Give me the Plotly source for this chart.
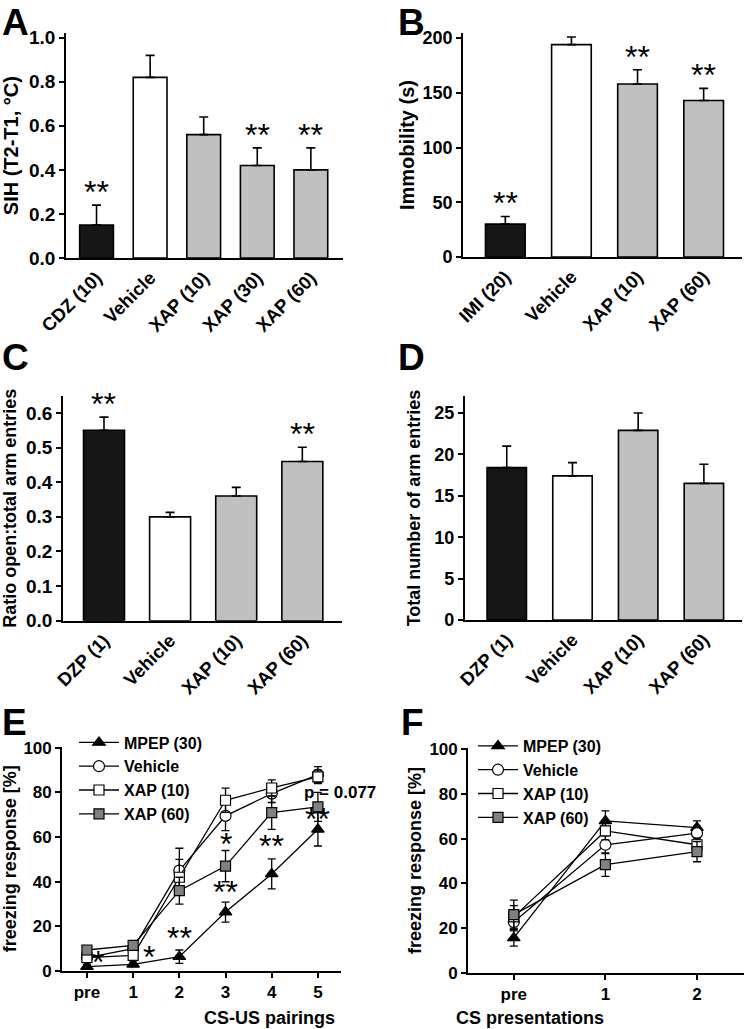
import plotly.graph_objects as go

# ---------------- DATA ----------------
A_cats = ["CDZ (10)", "Vehicle", "XAP (10)", "XAP (30)", "XAP (60)"]
A_vals = [0.15, 0.82, 0.56, 0.42, 0.40]
A_err = [0.09, 0.10, 0.08, 0.08, 0.10]
A_sig = ["**", "", "", "**", "**"]

B_cats = ["IMI (20)", "Vehicle", "XAP (10)", "XAP (60)"]
B_vals = [30, 194, 158, 143]
B_err = [7, 7, 13, 11]
B_sig = ["**", "", "**", "**"]

C_cats = ["DZP (1)", "Vehicle", "XAP (10)", "XAP (60)"]
C_vals = [0.55, 0.30, 0.36, 0.46]
C_err = [0.038, 0.013, 0.025, 0.041]
C_sig = ["**", "", "", "**"]

D_cats = ["DZP (1)", "Vehicle", "XAP (10)", "XAP (60)"]
D_vals = [18.4, 17.4, 22.9, 16.5]
D_err = [2.6, 1.6, 2.1, 2.3]

series_names = ["MPEP (30)", "Vehicle", "XAP (10)", "XAP (60)"]

E_x = ["pre", "1", "2", "3", "4", "5"]
E_mpep = [2, 3, 6.4, 26.4, 43.5, 63.5]
E_mpep_err = [1, 1, 3, 4.5, 6.7, 7.5]
E_veh = [6, 10, 45, 69.5, 79.5, 88]
E_veh_err = [1.5, 2, 10, 6.6, 4, 3.6]
E_x10 = [6, 7, 42, 76.5, 82, 87]
E_x10_err = [1.5, 2, 8, 5.4, 3.6, 3]
E_x60 = [9.4, 11.5, 36, 47, 71, 73.5]
E_x60_err = [2, 2, 6, 7, 7.5, 6.5]
E_sig_x = [0.25, 1.35, 2, 3, 3, 4, 5]
E_sig_y = [4, 6.4, 14.7, 57, 35.4, 56, 68]
E_sig_t = ["*", "*", "**", "*", "**", "**", "**"]

F_x = ["pre", "1", "2"]
F_mpep = [15.6, 68, 65]
F_mpep_err = [3.7, 4.5, 3]
F_veh = [22.7, 57.3, 62.5]
F_veh_err = [4, 4, 3]
F_x10 = [25, 63.5, 57.3]
F_x10_err = [5, 4, 3]
F_x60 = [26, 48.4, 54.2]
F_x60_err = [6.5, 5.3, 4.5]

# ---------------- STYLE ----------------
FONT = "Liberation Sans, Arial, Helvetica, sans-serif"
W, H = 745, 1029
BLACK_BAR = "#161616"
GRAY_BAR = "#c0c0c0"
GRAY_MARK = "#808080"


def fx(p):
    return p / W


def fy(p):
    return 1 - p / H


fig = go.Figure()


def bold(size):
    return dict(family=FONT, size=size, color="black", weight="bold")


axis_common = dict(
    showline=True, linecolor="black", linewidth=1.7, showgrid=False, zeroline=False,
    tickcolor="black", tickwidth=1.5, automargin=False,
)

panels = [
    # name, idx, xpx, ypx, yrange, xrange, dtick, fmt, ytitle, ytick size, title size, standoff
    ("A", 1, (66, 343), (33.3, 258), [0, 1.02], [-0.57, 4.6], 0.2, ".1f", "SIH (T2-T1, °C)", 19, 20, 6),
    ("B", 2, (463, 742), (33, 257), [0, 204.6], [-0.64, 3.58], 50, "", "Immobility (s)", 18, 20, 3),
    ("C", 3, (63, 342), (396, 620.7), [0, 0.649], [-0.62, 3.6], 0.1, ".1f", "Ratio open:total arm entries", 19, 18, 6),
    ("D", 4, (464.7, 742), (396, 620), [0, 27.05], [-0.64, 3.58], 5, "", "Total number of arm entries", 18, 18, 9),
    ("E", 5, (62, 341), (746.7, 971), [0, 100.5], [-0.54, 5.5], 20, "", "freezing response [%]", 17, 18, 10),
    ("F", 6, (468, 743.7), (748.3, 972.7), [0, 100.5], [-0.5, 2.51], 20, "", "freezing response [%]", 17, 18, 3),
]

layout = {}
for name, i, xp, yp, yr, xr, dt, fmt, yt, tks, tts, so in panels:
    xk = "xaxis" if i == 1 else f"xaxis{i}"
    yk = "yaxis" if i == 1 else f"yaxis{i}"
    xa = "x" if i == 1 else f"x{i}"
    ya = "y" if i == 1 else f"y{i}"
    is_line = name in ("E", "F")
    layout[xk] = dict(axis_common, domain=[fx(xp[0]), fx(xp[1])], anchor=ya, range=xr,
                      type="category", tickfont=bold(17 if is_line else 18.5),
                      ticks="outside" if is_line else "", ticklen=5,
                      tickangle=0 if is_line else -45)
    layout[yk] = dict(axis_common, domain=[fy(yp[1]), fy(yp[0])], anchor=xa, range=yr,
                      dtick=dt, tick0=0, tickformat=fmt, ticks="outside", ticklen=5,
                      tickfont=bold(tks),
                      title=dict(text=yt, font=bold(tts), standoff=so))


def bar_panel(cats, vals, err, xa, ya, width):
    colors = [BLACK_BAR, "white"] + [GRAY_BAR] * (len(cats) - 2)
    fig.add_trace(go.Bar(
        x=cats, y=vals, xaxis=xa, yaxis=ya, width=width, showlegend=False,
        marker=dict(color=colors, line=dict(color="black", width=1.6)),
        error_y=dict(type="data", array=err, arrayminus=[0] * len(err), symmetric=False,
                     color="black", thickness=1.6, width=4.5),
    ))


bar_panel(A_cats, A_vals, A_err, "x", "y", 0.63)
bar_panel(B_cats, B_vals, B_err, "x2", "y2", 0.6)
bar_panel(C_cats, C_vals, C_err, "x3", "y3", 0.62)
bar_panel(D_cats, D_vals, D_err, "x4", "y4", 0.6)

annotations = []
star_font = dict(family=FONT, size=32, color="black")
for cats, vals, err, sig, xa, ya in [
    (A_cats, A_vals, A_err, A_sig, "x", "y"),
    (B_cats, B_vals, B_err, B_sig, "x2", "y2"),
    (C_cats, C_vals, C_err, C_sig, "x3", "y3"),
]:
    for c, v, e, s in zip(cats, vals, err, sig):
        if s:
            annotations.append(dict(x=c, y=v + e, xref=xa, yref=ya, text=s, showarrow=False,
                                    font=star_font, yanchor="middle", yshift=13))

# line panels
line_specs = [
    ("triangle-up", "black", 11),
    ("circle", "white", 11),
    ("square", "white", 10),
    ("square", GRAY_MARK, 10),
]


def line_panel(xcats, ys, errs, xa, ya, legend):
    for name, y, e, (sym, fill, size) in zip(series_names, ys, errs, line_specs):
        fig.add_trace(go.Scatter(
            x=xcats, y=y, xaxis=xa, yaxis=ya, name=name, legend=legend,
            mode="lines+markers",
            line=dict(color="black", width=1.3),
            marker=dict(symbol=sym, color=fill, size=size, line=dict(color="black", width=1.2)),
            error_y=dict(type="data", array=e, color="black", thickness=1.3, width=4),
        ))


line_panel(E_x, [E_mpep, E_veh, E_x10, E_x60], [E_mpep_err, E_veh_err, E_x10_err, E_x60_err],
           "x5", "y5", "legend")
line_panel(F_x, [F_mpep, F_veh, F_x10, F_x60], [F_mpep_err, F_veh_err, F_x10_err, F_x60_err],
           "x6", "y6", "legend2")

for sx, sy, st in zip(E_sig_x, E_sig_y, E_sig_t):
    annotations.append(dict(x=sx, y=sy, xref="x5", yref="y5", text=st, showarrow=False,
                            font=star_font, yanchor="middle", yshift=0))

annotations.append(dict(x=4.66, y=80, xref="x5", yref="y5", text="p = 0.077", showarrow=False,
                        xanchor="left", yanchor="middle", font=bold(17)))

# x-axis titles of the line panels
annotations.append(dict(x=fx(201.5), y=fy(1018), xref="paper", yref="paper",
                        text="CS-US pairings", showarrow=False, yanchor="middle", font=bold(18)))
annotations.append(dict(x=fx(606), y=fy(1018), xref="paper", yref="paper",
                        text="CS presentations", showarrow=False, yanchor="middle", font=bold(18)))

# panel letters
for letter, lx, ly in [("A", 0, 0), ("B", 396, 0), ("C", 0, 335), ("D", 396, 335),
                       ("E", 0, 700), ("F", 399, 700)]:
    annotations.append(dict(x=fx(lx), y=fy(ly), xref="paper", yref="paper", text=letter,
                            showarrow=False, xanchor="left", yanchor="top", font=bold(37)))

layout.update(
    width=W, height=H, margin=dict(l=0, r=0, t=0, b=0),
    paper_bgcolor="white", plot_bgcolor="white",
    barmode="group",
    annotations=annotations,
    legend=dict(x=fx(74), y=fy(725.5), xanchor="left", yanchor="top", font=bold(16),
                bgcolor="rgba(0,0,0,0)", itemwidth=40, tracegroupgap=0),
    legend2=dict(x=fx(473), y=fy(729), xanchor="left", yanchor="top", font=bold(16),
                 bgcolor="rgba(0,0,0,0)", itemwidth=40, tracegroupgap=0),
)
fig.update_layout(**layout)
fig.write_html("out.html", config={"displayModeBar": False},
               post_script="document.body.style.margin='0';")
